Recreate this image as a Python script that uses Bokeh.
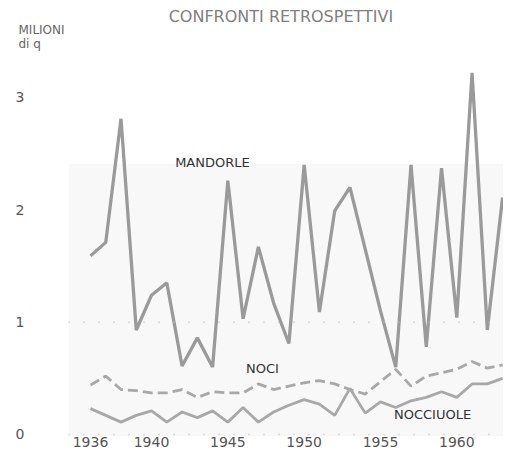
from bokeh.plotting import figure
from bokeh.models import Label, Span, BoxAnnotation, FixedTicker, Title
from bokeh.embed import file_html
from bokeh.resources import INLINE

years = list(range(1936, 1964))
mandorle = [1.59, 1.71, 2.81, 0.93, 1.24, 1.35, 0.61, 0.86, 0.60, 2.26,
            1.03, 1.67, 1.17, 0.81, 2.40, 1.09, 1.99, 2.20, 1.65, 1.10,
            0.60, 2.40, 0.78, 2.37, 1.04, 3.22, 0.93, 2.11]
noci = [0.44, 0.52, 0.40, 0.39, 0.37, 0.37, 0.40, 0.33, 0.38, 0.37,
        0.37, 0.45, 0.40, 0.43, 0.46, 0.48, 0.45, 0.40, 0.36, 0.47,
        0.58, 0.43, 0.52, 0.55, 0.58, 0.65, 0.59, 0.62]
nocciuole = [0.23, 0.17, 0.11, 0.17, 0.21, 0.11, 0.20, 0.15, 0.21, 0.11,
             0.24, 0.11, 0.20, 0.26, 0.31, 0.27, 0.17, 0.41, 0.19, 0.29,
             0.24, 0.30, 0.33, 0.38, 0.33, 0.45, 0.45, 0.50]
x_ticks = [1936, 1940, 1945, 1950, 1955, 1960]
y_ticks = [0, 1, 2, 3]

FONT = "DejaVu Sans"

p = figure(width=503, height=451, output_backend="svg", toolbar_location=None,
           x_range=(1934.56, 1963.06), y_range=(-0.018, 3.436),
           title_location=None,
           min_border_left=68, min_border_right=0, min_border_top=48,
           min_border_bottom=15, outline_line_color=None,
           background_fill_color="white", border_fill_color="white")

p.add_layout(BoxAnnotation(top=2.41, fill_color="#f8f8f8", fill_alpha=1.0,
                           line_color=None, level="underlay"))

p.xgrid.grid_line_color = None
p.ygrid.grid_line_color = None
for yv in (0, 1):
    p.add_layout(Span(location=yv, dimension="width", line_color="#bbbbbb",
                      line_width=1.5, line_dash="1 14"))

p.line(years, mandorle, line_color="#9a9a9a", line_width=3.3)
p.line(years, noci, line_color="#a8a8a8", line_width=2.8, line_dash="10 5")
p.line(years, nocciuole, line_color="#a8a8a8", line_width=2.8)

p.xaxis.ticker = FixedTicker(ticks=x_ticks)
p.yaxis.ticker = FixedTicker(ticks=y_ticks)
for ax in (p.xaxis[0], p.yaxis[0]):
    ax.axis_line_color = None
    ax.major_tick_line_color = None
    ax.minor_tick_line_color = None
    ax.major_tick_out = 0
    ax.major_tick_in = 0
    ax.major_label_text_font = FONT
    ax.major_label_text_color = "#555555"
    ax.major_label_text_font_size = "14px"
p.xaxis.major_label_standoff = 0
p.yaxis.major_label_standoff = 44

# titles stacked above the frame (first added = closest to frame)
p.add_layout(Title(text="di q", align="left", offset=-50, standoff=-4,
                   text_font=FONT, text_font_size="12px",
                   text_font_style="normal", text_color="#666666"), "above")
p.add_layout(Title(text="MILIONI", align="left", offset=-50, standoff=-1,
                   text_font=FONT, text_font_size="12px",
                   text_font_style="normal", text_color="#666666"), "above")
p.add_layout(Title(text="CONFRONTI   RETROSPETTIVI", align="center", offset=-6,
                   standoff=-9, text_font=FONT, text_font_size="16px",
                   text_font_style="normal", text_color="#808080"), "above")

def lab(x, y, t):
    p.add_layout(Label(x=x, y=y, text=t, text_font=FONT, text_font_size="13px",
                       text_color="#333333", text_align="center",
                       text_baseline="middle"))

lab(1943.99, 2.42, "MANDORLE")
lab(1947.27, 0.59, "NOCI")
lab(1958.41, 0.18, "NOCCIUOLE")

open("out.html", "w").write(file_html(p, INLINE))
